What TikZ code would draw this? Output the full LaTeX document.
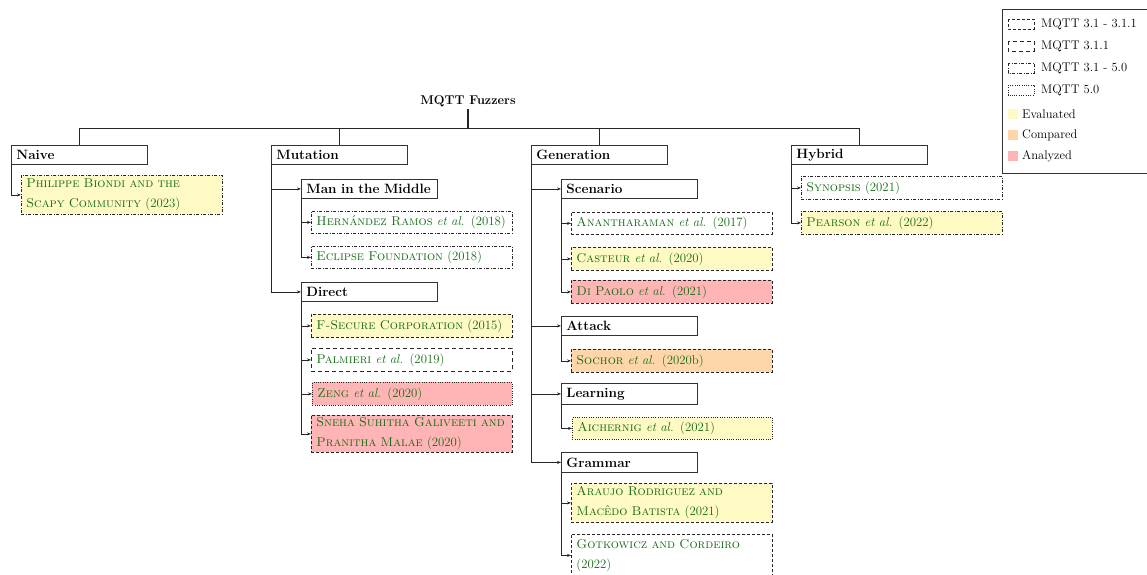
\documentclass[tikz,border=0pt]{standalone}
\usepackage{tikz}
\usetikzlibrary{arrows.meta}
\definecolor{evalc}{RGB}{255,249,196}
\definecolor{compc}{RGB}{255,214,170}
\definecolor{anac}{RGB}{255,181,181}
\definecolor{refgreen}{RGB}{20,108,20}
\newcommand{\au}[1]{\textsc{#1}}
\newcommand{\etal}{\textit{et al.}}
\tikzset{
  cat/.style={draw=black!80, line width=0.8pt, anchor=north west, inner sep=0pt, inner xsep=5pt,
    text width=126pt, align=left, minimum height=19pt, font=\bfseries\fontsize{13.5}{15}\selectfont},
  leaf/.style={draw=black!85, line width=0.8pt, anchor=north west, inner sep=0pt, inner xsep=5pt,
    text width=191pt, align=left, minimum height=23pt, font=\fontsize{12.8}{20}\selectfont, text=refgreen},
  dashA/.style={dash pattern=on 3pt off 2pt},
  dashB/.style={dash pattern=on 4pt off 3pt},
  dashC/.style={dash pattern=on 3pt off 1.5pt on 1pt off 1.5pt},
  dashD/.style={dash pattern=on 1pt off 1.3pt},
  conn/.style={-{Stealth[length=4pt,width=3pt]}, line width=0.7pt, draw=black!85},
  bus/.style={line width=0.8pt, draw=black!85},
  legtext/.style={anchor=west, inner sep=0pt, font=\fontsize{12.5}{15}\selectfont},
  legbox/.style={draw=black!85, line width=0.7pt},
}
\begin{document}
\begin{tikzpicture}[x=1pt,y=-1pt]
\useasboundingbox (0,0) rectangle (1147,574);
\clip (0,0) rectangle (1147,574);

% root
\node[font=\bfseries\fontsize{12.7}{14}\selectfont, inner sep=2pt] (root) at (468,101) {MQTT Fuzzers};
\coordinate (busc) at (468,128);

% categories
\node[cat] (naive) at (11,145) {Naive};
\node[cat] (mutation) at (271,145) {Mutation};
\node[cat] (generation) at (531,145) {Generation};
\node[cat] (hybrid) at (791,145) {Hybrid};

\draw[line width=1.5pt, draw=black!85] (root.south) -- (busc);
\draw[bus] (busc) -| (naive.north);
\draw[bus] (busc) -| (mutation.north);
\draw[bus] (busc) -| (generation.north);
\draw[bus] (busc) -| (hybrid.north);

% subcategories
\node[cat] (mitm) at (301,179) {Man in the Middle};
\node[cat] (direct) at (301,282) {Direct};
\node[cat] (scenario) at (561,179) {Scenario};
\node[cat] (attack) at (561,316) {Attack};
\node[cat, minimum height=21pt] (learning) at (561,383) {Learning};
\node[cat, minimum height=20pt] (grammar) at (561,452) {Grammar};

% leaves
\node[leaf, dashC, fill=evalc, minimum height=39pt] (philippe) at (21,175) {\au{Philippe Biondi and the}\\\au{Scapy Community} (2023)};

\node[leaf, dashC, minimum height=22pt] (hernandez) at (311,211) {\au{Hernández Ramos} \etal{} (2018)};
\node[leaf, dashC, minimum height=22pt] (eclipse) at (311,246) {\au{Eclipse Foundation} (2018)};

\node[leaf, dashA, fill=evalc] (fsecure) at (311,314) {\au{F-Secure Corporation} (2015)};
\node[leaf, dashB] (palmieri) at (311,348) {\au{Palmieri} \etal{} (2019)};
\node[leaf, dashD, fill=anac, text width=190pt] (zeng) at (312,382) {\au{Zeng} \etal{} (2020)};
\node[leaf, dashA, fill=anac, minimum height=37pt] (sneha) at (311,415) {\au{Sneha Suhitha Galiveeti and}\\\au{Pranitha Malae} (2020)};

\node[leaf, dashA, minimum height=22pt] (anan) at (571,212) {\au{Anantharaman} \etal{} (2017)};
\node[leaf, dashA, fill=evalc] (casteur) at (571,247) {\au{Casteur} \etal{} (2020)};
\node[leaf, dashA, fill=anac] (dipaolo) at (571,280) {\au{Di Paolo} \etal{} (2021)};

\node[leaf, dashA, fill=compc] (sochor) at (571,349) {\au{Sochor} \etal{} (2020b)};
\node[leaf, dashD, fill=evalc, text width=190pt, minimum height=22pt] (aichernig) at (572,417) {\au{Aichernig} \etal{} (2021)};

\node[leaf, dashA, fill=evalc, minimum height=39pt] (araujo) at (571,483) {\au{Araujo Rodriguez and}\\\au{Macêdo Batista} (2021)};
\node[leaf, dashA, minimum height=42pt] (gotk) at (571,534) {\au{Gotkowicz and Cordeiro}\\(2022)};

\node[leaf, dashC] (synopsis) at (801,176) {\au{Synopsis} (2021)};
\node[leaf, dashC, fill=evalc] (pearson) at (801,211) {\au{Pearson} \etal{} (2022)};

% connectors
\draw[conn] (naive.south west) |- (philippe.west);
\draw[conn] (mutation.south west) |- (mitm.west);
\draw[conn] (mutation.south west) |- (direct.west);
\draw[conn] (mitm.south west) |- (hernandez.west);
\draw[conn] (mitm.south west) |- (eclipse.west);
\draw[conn] (direct.south west) |- (fsecure.west);
\draw[conn] (direct.south west) |- (palmieri.west);
\draw[conn] (direct.south west) |- (zeng.west);
\draw[conn] (direct.south west) |- (sneha.west);
\draw[conn] (generation.south west) |- (scenario.west);
\draw[conn] (generation.south west) |- (attack.west);
\draw[conn] (generation.south west) |- (learning.west);
\draw[conn] (generation.south west) |- (grammar.west);
\draw[conn] (scenario.south west) |- (anan.west);
\draw[conn] (scenario.south west) |- (casteur.west);
\draw[conn] (scenario.south west) |- (dipaolo.west);
\draw[conn] (attack.south west) |- (sochor.west);
\draw[conn] (learning.south west) |- (aichernig.west);
\draw[conn] (grammar.south west) |- (araujo.west);
\draw[conn] (grammar.south west) |- (gotk.west);
\draw[conn] (hybrid.south west) |- (synopsis.west);
\draw[conn] (hybrid.south west) |- (pearson.west);

% legend
\node[draw=black!80, line width=0.8pt, anchor=north west, minimum width=150pt, minimum height=164pt, inner sep=0pt] (legend) at (1002,9) {};
\draw[legbox, dashA] (1008,19) rectangle (1034,29);
\node[legtext] (l1) at (1041,24) {MQTT 3.1 - 3.1.1};
\draw[legbox, dashB] (1008,41) rectangle (1034,51);
\node[legtext] (l2) at (1041,46) {MQTT 3.1.1};
\draw[legbox, dashC] (1008,63) rectangle (1034,73);
\node[legtext] (l3) at (1041,68) {MQTT 3.1 - 5.0};
\draw[legbox, dashD] (1008,85) rectangle (1034,95);
\node[legtext] (l4) at (1041,90) {MQTT 5.0};
\fill[evalc] (1008,109) rectangle (1018,119);
\node[legtext] (l5) at (1022,114) {Evaluated};
\fill[compc] (1008,130) rectangle (1018,140);
\node[legtext] (l6) at (1022,135) {Compared};
\fill[anac] (1008,151) rectangle (1018,161);
\node[legtext] (l7) at (1022,156) {Analyzed};
\end{tikzpicture}
\end{document}
